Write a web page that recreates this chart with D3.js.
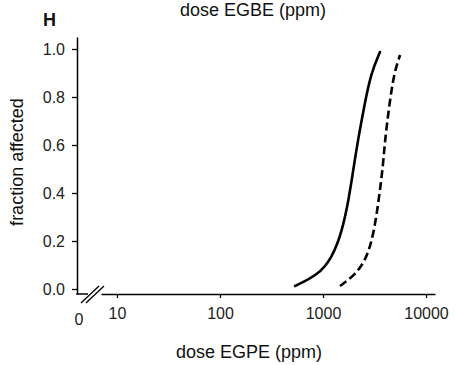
<!DOCTYPE html>
<html>
<head>
<meta charset="utf-8">
<script src="https://cdn.jsdelivr.net/npm/d3@7/dist/d3.min.js"></script>
<style>
  html, body { margin: 0; padding: 0; background: #fff; }
  svg { display: block; font-family: "Liberation Sans", Arial, sans-serif; }
</style>
</head>
<body>
<svg id="chart" width="457" height="365"></svg>
<script>
// ---- data ----
const panelLabel = "H";
const topTitle = "dose EGBE (ppm)";
const xTitle = "dose EGPE (ppm)";
const yTitle = "fraction affected";
const xTickValues = [10, 100, 1000, 10000];
const xTickLabels = ["10", "100", "1000", "10000"];
const yTickValues = [0, 0.2, 0.4, 0.6, 0.8, 1.0];
const yTickLabels = ["0.0", "0.2", "0.4", "0.6", "0.8", "1.0"];
const zeroLabel = "0";

// solid curve (EGPE)
const solidDose = [535, 893, 1222, 1528, 1788, 2000, 2188, 2500, 2924, 3575];
const solidFrac = [0.0125, 0.058, 0.129, 0.2375, 0.379, 0.517, 0.621, 0.758, 0.90, 0.9875];
// dashed curve (EGBE)
const dashDose = [1462, 2046, 2674, 3126, 3499, 3828, 4000, 4375, 4889, 5600];
const dashFrac = [0.0125, 0.058, 0.129, 0.2375, 0.379, 0.517, 0.621, 0.758, 0.90, 0.975];

// ---- layout ----
const svg = d3.select("#chart");
const axisX0 = 77, axisY0 = 294;

const x = d3.scaleLog().domain([7.0, 12220]).range([101, 435]);
const y = d3.scaleLinear().domain([-0.0208, 1.05]).range([294, 37]);

// y axis
const yAxis = d3.axisLeft(y).tickValues(yTickValues)
  .tickFormat((d, i) => yTickLabels[i]).tickSize(5).tickPadding(7).tickSizeOuter(0);
const gy = svg.append("g").attr("transform", `translate(${axisX0},0)`).call(yAxis);
gy.select(".domain").attr("stroke", "#000").attr("stroke-width", 1.5);
gy.selectAll(".tick line").attr("stroke", "#000").attr("stroke-width", 1.3);
gy.selectAll(".tick text").attr("font-size", 16).attr("fill", "#222")
  .attr("font-family", "Liberation Sans, Arial, sans-serif");

// x axis
const xAxis = d3.axisBottom(x).tickValues(xTickValues)
  .tickFormat((d, i) => xTickLabels[i]).tickSize(4).tickPadding(10).tickSizeOuter(0);
const gx = svg.append("g").attr("transform", `translate(0,${axisY0})`).call(xAxis);
gx.select(".domain").attr("stroke", "#000").attr("stroke-width", 1.5);
gx.selectAll(".tick line").attr("stroke", "#000").attr("stroke-width", 1.3);
gx.selectAll(".tick text").attr("font-size", 16).attr("fill", "#222")
  .attr("font-family", "Liberation Sans, Arial, sans-serif");

// left segment + break marks
svg.append("line").attr("x1", axisX0 - 0.75).attr("x2", 88)
  .attr("y1", axisY0).attr("y2", axisY0).attr("stroke", "#000").attr("stroke-width", 1.5);
[[81, 303, 99, 286], [86, 303, 104, 286]].forEach(b => {
  svg.append("line").attr("x1", b[0]).attr("y1", b[1]).attr("x2", b[2]).attr("y2", b[3])
    .attr("stroke", "#000").attr("stroke-width", 1.3);
});
svg.append("text").attr("x", 79).attr("y", 325).attr("text-anchor", "middle")
  .attr("font-size", 16).attr("fill", "#222").text(zeroLabel);

// curves
const line = d3.line().x(d => x(d[0])).y(d => y(d[1])).curve(d3.curveBasis);
svg.append("path").datum(solidDose.map((d, i) => [d, solidFrac[i]]))
  .attr("d", line).attr("fill", "none").attr("stroke", "#000").attr("stroke-width", 2.6)
  .attr("stroke-linecap", "round");
svg.append("path").datum(dashDose.map((d, i) => [d, dashFrac[i]]))
  .attr("d", line).attr("fill", "none").attr("stroke", "#000").attr("stroke-width", 2.6)
  .attr("stroke-dasharray", "8,4");

// titles
svg.append("text").attr("x", 43).attr("y", 26).attr("font-size", 18).attr("font-weight", "bold")
  .attr("fill", "#111").text(panelLabel);
svg.append("text").attr("x", 253).attr("y", 16).attr("text-anchor", "middle")
  .attr("font-size", 18).attr("fill", "#111").text(topTitle);
svg.append("text").attr("x", 249).attr("y", 358).attr("text-anchor", "middle")
  .attr("font-size", 18).attr("fill", "#111").text(xTitle);
svg.append("text").attr("transform", "translate(23,162) rotate(-90)").attr("text-anchor", "middle")
  .attr("font-size", 18).attr("fill", "#111").text(yTitle);
</script>
</body>
</html>
